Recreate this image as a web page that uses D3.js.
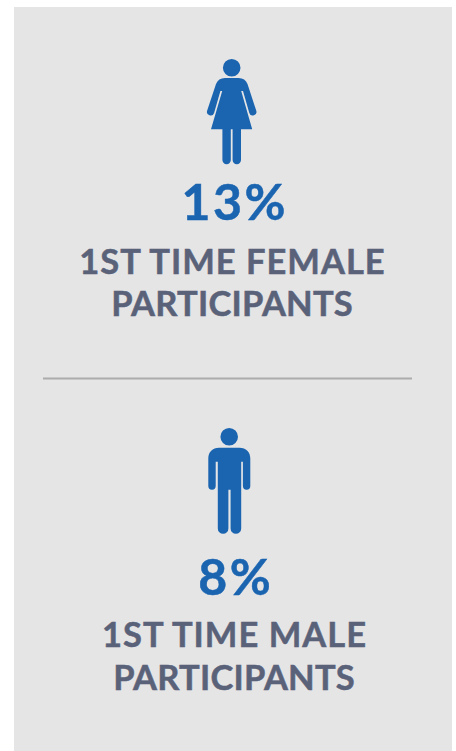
<!DOCTYPE html>
<html><head><meta charset="utf-8">
<script src="https://cdn.jsdelivr.net/npm/d3@7/dist/d3.min.js"></script>
<style>html,body{margin:0;padding:0;background:#fff}svg{display:block}</style>
</head><body><svg id="c" width="456" height="751"></svg>
<script>
const percents = ["13%", "8%"];
const labelLine1 = ["1ST TIME FEMALE", "1ST TIME MALE"];
const labelLine2 = ["PARTICIPANTS", "PARTICIPANTS"];
const genders = ["female", "male"];

const FONT = '"Lato","Open Sans",sans-serif';
const svg = d3.select("#c");
svg.append("rect").attr("x",14).attr("y",7).attr("width",438).attr("height",744).attr("fill","#e5e5e6");
svg.append("line").attr("x1",43).attr("x2",412).attr("y1",378.5).attr("y2",378.5).attr("stroke","#acacac").attr("stroke-width",2);

const blue = "#1a64b0", slate = "#5a6279";
const female = "M231.700 59a8.800 8.800 0 1 1 0 17.600a8.800 8.800 0 1 1 0-17.600z"
 + "M225 78h13.500c4.500 0 7.500 2 9 6L256.200 110.500a3.600 3.600 0 0 1-6.900 2.500L243 91h-1.800L252.200 129.300H241V160a4.200 4.200 0 0 1-8.400 0V129.300H230.800V160a4.200 4.200 0 0 1-8.400 0V129.300H211L222.200 91h-1.800L214.100 113a3.600 3.600 0 0 1-6.900-2.500L216 84c1.500-4 4.500-6 9-6z";
const male = "M229.200 428a8.800 8.800 0 1 1 0 17.600a8.800 8.800 0 1 1 0-17.600z"
 + "M219 447.700H239.500c6.500 0 10.800 4.300 10.800 10.800V486a3.700 3.700 0 0 1-7.400 0V461.700H241.200V528.500a5.300 5.300 0 0 1-10.600 0V489.700H228.400V528.500a5.300 5.300 0 0 1-10.600 0V461.700H215.700V486a3.700 3.700 0 0 1-7.400 0V458.500c0-6.500 4.300-10.800 10.700-10.800z";
const iconPaths = {female, male};
svg.selectAll("path.icon").data(genders).join("path").attr("class","icon").attr("d",d=>iconPaths[d]).attr("fill",blue);

const cx = [232,234], pctY=[220,595], l1Y=[274,647], l2Y=[316,690];
const t = (txt,x,y,size,fill,ls)=>svg.append("text").attr("x",x+ls/2).attr("y",y).attr("text-anchor","middle")
  .attr("font-family",FONT).attr("font-weight",700).attr("font-size",size).attr("letter-spacing",ls).attr("fill",fill)
  .attr("stroke",fill).attr("stroke-width",.5).text(txt);
percents.forEach((p,i)=>{
  t(p,[233.500,234.500][i],pctY[i],50,blue,2.500);
  t(labelLine1[i],cx[i],l1Y[i],34.500,slate,1);
  t(labelLine2[i],cx[i],l2Y[i],34.500,slate,.25);
});
</script></body></html>
